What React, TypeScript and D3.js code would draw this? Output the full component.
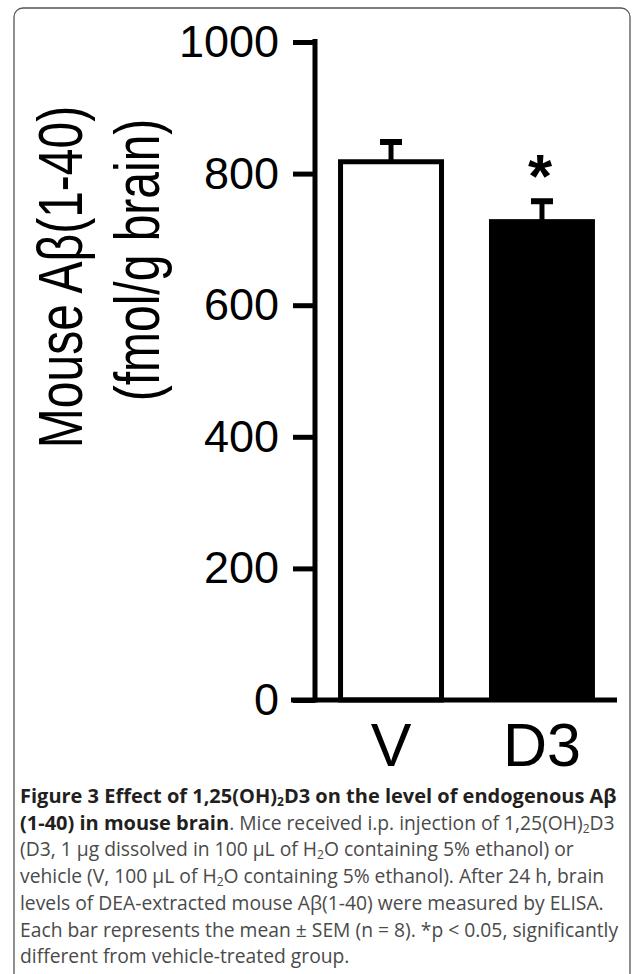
import { useEffect, useRef } from 'react';
import * as d3 from 'd3';

// groups and values (fmol/g brain)
const groups = ['V', 'D3'];
const means = [818, 727];
const sems = [30, 31];
const fills = ['#ffffff', '#000000'];
const significant = [false, true];
const yTicks = [0, 200, 400, 600, 800, 1000];

const captionLines = [
  [{ t: 'Figure 3 Effect of 1,25(OH)', b: true }, { t: '2', b: true, sub: true }, { t: 'D3 on the level of endogenous A\u03b2', b: true }],
  [{ t: '(1-40) in mouse brain', b: true }, { t: '. Mice received i.p. injection of 1,25(OH)' }, { t: '2', sub: true }, { t: 'D3' }],
  [{ t: '(D3, 1 \u00b5g dissolved in 100 \u00b5L of H' }, { t: '2', sub: true }, { t: 'O containing 5% ethanol) or' }],
  [{ t: 'vehicle (V, 100 \u00b5L of H' }, { t: '2', sub: true }, { t: 'O containing 5% ethanol). After 24 h, brain' }],
  [{ t: 'levels of DEA-extracted mouse A\u03b2(1-40) were measured by ELISA.' }],
  [{ t: 'Each bar represents the mean \u00b1 SEM (n = 8). *p < 0.05, significantly' }],
  [{ t: 'different from vehicle-treated group.' }],
];

function App() {
  const svgRef = useRef(null);

  useEffect(() => {
    const width = 633;
    const height = 974;
    const svg = d3.select(svgRef.current);
    svg.selectAll('*').remove();
    svg.attr('width', width).attr('height', height);

    // figure frame
    svg.append('rect')
      .attr('x', 14).attr('y', 8)
      .attr('width', 616).attr('height', 1000)
      .attr('rx', 9)
      .attr('fill', 'none')
      .attr('stroke', '#555')
      .attr('stroke-width', 1.3);

    const font = 'Arial, "Liberation Sans", Helvetica, sans-serif';

    const y = d3.scaleLinear().domain([0, 1000]).range([700, 42]);
    const x = d3.scaleBand().domain(groups).range([316, 617])
      .paddingInner(0.298).paddingOuter(0.146);

    const g = svg.append('g');

    // bars
    groups.forEach((name, i) => {
      const bx = x(name);
      const bw = x.bandwidth();
      if (fills[i] === '#ffffff') {
        g.append('rect')
          .attr('x', bx + 2.5).attr('y', y(means[i]))
          .attr('width', bw - 5).attr('height', y(0) - y(means[i]))
          .attr('fill', '#fff').attr('stroke', '#000').attr('stroke-width', 5);
      } else {
        g.append('rect')
          .attr('x', bx).attr('y', y(means[i]) - 2.5)
          .attr('width', bw).attr('height', y(0) - y(means[i]) + 2.5)
          .attr('fill', fills[i]);
      }
      const cx = bx + bw / 2;
      // error bar (upper only)
      g.append('line')
        .attr('x1', cx).attr('x2', cx)
        .attr('y1', y(means[i])).attr('y2', y(means[i] + sems[i]))
        .attr('stroke', '#000').attr('stroke-width', 5);
      g.append('line')
        .attr('x1', cx - 11).attr('x2', cx + 11)
        .attr('y1', y(means[i] + sems[i])).attr('y2', y(means[i] + sems[i]))
        .attr('stroke', '#000').attr('stroke-width', 6);
      if (significant[i]) {
        g.append('text')
          .attr('x', cx - 2).attr('y', y(means[i] + sems[i]) - 4)
          .attr('text-anchor', 'middle')
          .style('font-family', font).style('font-weight', 'bold').style('font-size', '62px')
          .text('*');
      }
      // category label
      g.append('text')
        .attr('x', cx).attr('y', 766)
        .attr('text-anchor', 'middle')
        .style('font-family', font).style('font-size', '61px')
        .text(name);
    });

    // y axis
    const yAxis = g.append('g')
      .attr('transform', 'translate(315,0)')
      .call(d3.axisLeft(y).tickValues(yTicks).tickFormat(d3.format('d'))
        .tickSize(22).tickSizeOuter(0).tickPadding(14));
    yAxis.select('.domain').remove();
    yAxis.selectAll('.tick line').attr('stroke', '#000').attr('stroke-width', 5);
    yAxis.selectAll('.tick text')
      .attr('fill', '#000')
      .style('font-family', font).style('font-size', '45px');
    g.append('line')
      .attr('x1', 315).attr('x2', 315)
      .attr('y1', y(1000) - 3).attr('y2', y(0) + 2.5)
      .attr('stroke', '#000').attr('stroke-width', 5);
    // baseline
    g.append('line')
      .attr('x1', 291).attr('x2', 617)
      .attr('y1', y(0)).attr('y2', y(0))
      .attr('stroke', '#000').attr('stroke-width', 5);

    // y axis title, two lines (glyphs look stretched in the original)
    g.append('text')
      .attr('transform', 'translate(82,277) rotate(-90) scale(1,1.3)')
      .attr('text-anchor', 'middle')
      .style('font-family', font).style('font-size', '48px')
      .text('Mouse A\u03b2(1-40)');
    g.append('text')
      .attr('transform', 'translate(159,260) rotate(-90) scale(1,1.3)')
      .attr('text-anchor', 'middle')
      .style('font-family', font).style('font-size', '48px')
      .text('(fmol/g brain)');

    // caption
    const cap = svg.append('g').style('font-family', '"Open Sans", "Noto Sans", sans-serif');
    captionLines.forEach((line, i) => {
      const t = cap.append('text').attr('x', 20).attr('y', 803 + i * 26.7);
      line.forEach((seg, j) => {
        const ts = t.append('tspan')
          .attr('fill', seg.b ? '#231f20' : '#4a4a4a')
          .style('font-weight', seg.b ? 'bold' : 'normal')
          .style('font-size', seg.b ? '20px' : '19.3px')
          .text(seg.t);
        if (seg.sub) {
          ts.style('font-size', '12px').attr('dy', 3);
        } else if (j > 0 && line[j - 1].sub) {
          ts.attr('dy', -3);
        }
      });
    });
  }, []);

  return (
    <svg ref={svgRef} style={{ position: 'absolute', left: 0, top: 0, background: '#fff' }}></svg>
  );
}

export default App;
